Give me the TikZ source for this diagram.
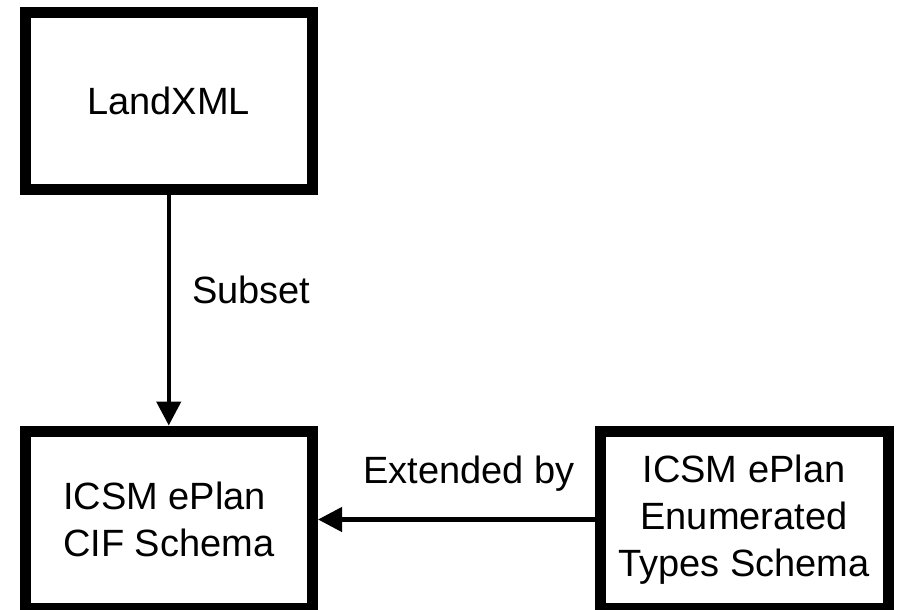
\documentclass[tikz,border=0pt]{standalone}
\usepackage{fontspec}
\setmainfont{Liberation Sans}
\usetikzlibrary{arrows.meta}
\begin{document}
\begin{tikzpicture}[x=1pt,y=-1pt,
  box/.style={draw=black, line width=11pt, outer sep=5.5pt, fill=white,
    minimum width=287.5pt, minimum height=177pt, inner sep=0pt,
    font=\fontsize{38}{47}\selectfont},
  conn/.style={line width=4.5pt, -{Triangle[length=24pt,width=24pt]}},
  lbl/.style={inner sep=0pt, anchor=base west, font=\fontsize{38}{47}\selectfont}]
\useasboundingbox (0,0) rectangle (899,610);
\node[box] (landxml) at (168.75,100.75) {LandXML};
\node[box, align=left] (cif) at (168.75,519.5) {ICSM ePlan\\CIF Schema};
\node[box, align=center, minimum width=288pt] (enum) at (744,519.5) {ICSM ePlan\\Enumerated\\Types Schema};
\draw[conn] (landxml) -- (cif);
\draw[conn] (enum) -- (cif);
\node[lbl] (subset) at (192,303) {Subset};
\node[lbl] (extby) at (363,483) {Extended by};
\end{tikzpicture}
\end{document}
